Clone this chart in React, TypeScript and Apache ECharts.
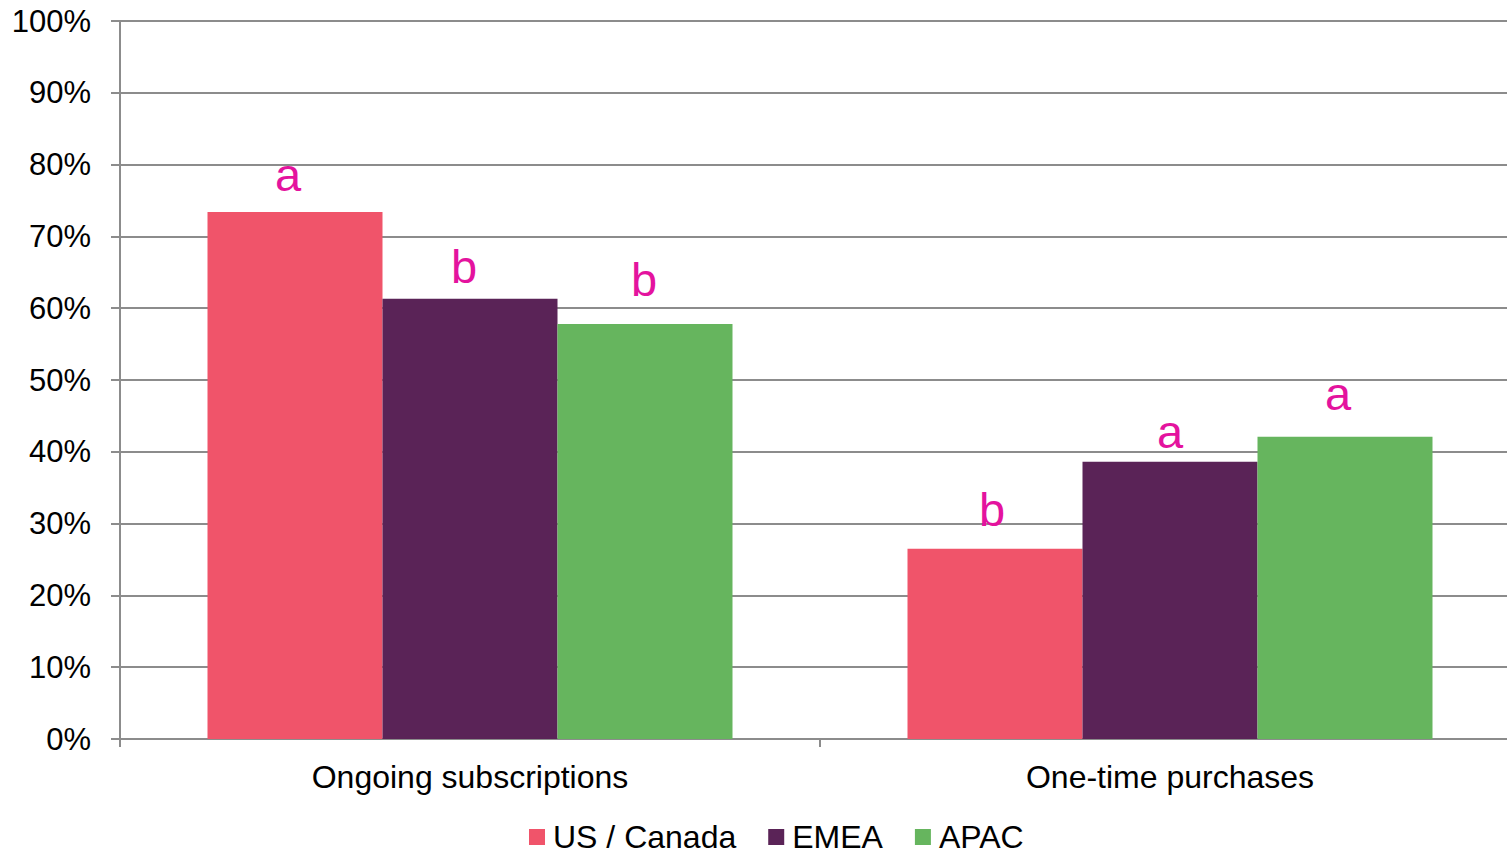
import React, { useEffect, useRef } from "react";
import * as echarts from "echarts";

const categories = ["Ongoing subscriptions", "One-time purchases"];
const seriesNames = ["US / Canada", "EMEA", "APAC"];
const usCanada = [73.4, 26.5];
const emea = [61.3, 38.6];
const apac = [57.8, 42.1];
const usLetters = ["a", "b"];
const emeaLetters = ["b", "a"];
const apacLetters = ["b", "a"];
const colors = ["#F0546A", "#5A2357", "#66B55E"];

export default function App() {
  const ref = useRef<HTMLDivElement>(null);
  useEffect(() => {
    if (!ref.current) return;
    const chart = echarts.init(ref.current, null, { renderer: "svg" });
    const values = [usCanada, emea, apac];
    const letters = [usLetters, emeaLetters, apacLetters];
    // small hand-placement tweaks of the significance letters, as in the original
    const labelShift = [
      [[-7, -2], [-3, -4]],
      [[-6, 3], [0, 5]],
      [[-1, -9], [-7, -8]],
    ];
    chart.setOption({
      animation: false,
      textStyle: { fontFamily: "Liberation Sans, Arial, sans-serif" },
      color: colors,
      grid: { left: 120, right: 0, top: 21, bottom: 117, containLabel: false },
      legend: {
        left: 529,
        top: 821,
        padding: 0,
        itemWidth: 16,
        itemHeight: 16,
        itemGap: 32,
        icon: "rect",
        textStyle: { fontSize: 32, color: "#000", padding: [0, 0, 0, 3] },
        data: seriesNames,
      },
      xAxis: {
        type: "category",
        data: categories,
        axisLine: { show: true, lineStyle: { color: "#8c8c8c", width: 2 } },
        axisTick: { show: true, length: 8, lineStyle: { color: "#8c8c8c", width: 2 } },
        axisLabel: { fontSize: 32, color: "#000", margin: 22 },
      },
      yAxis: {
        type: "value",
        min: 0,
        max: 100,
        interval: 10,
        axisLine: { show: true, lineStyle: { color: "#8c8c8c", width: 2 } },
        axisTick: { show: true, length: 9, lineStyle: { color: "#8c8c8c", width: 2 } },
        axisLabel: { fontSize: 31, color: "#000", margin: 29, formatter: "{value}%" },
        splitLine: { show: true, lineStyle: { color: "#8c8c8c", width: 2 } },
      },
      series: seriesNames.map((name, s) => ({
        name,
        type: "bar",
        barWidth: 175,
        barGap: "0%",
        data: values[s].map((v, i) => ({
          value: v,
          label: { offset: labelShift[s][i], formatter: letters[s][i] },
        })),
        label: {
          show: true,
          position: "top",
          distance: 12,
          fontSize: 47,
          color: "#E4139E",
        },
      })),
    });
    return () => chart.dispose();
  }, []);
  return (
    <div
      ref={ref}
      style={{ position: "fixed", left: 0, top: 0, width: 1520, height: 856, background: "#fff" }}
    />
  );
}
